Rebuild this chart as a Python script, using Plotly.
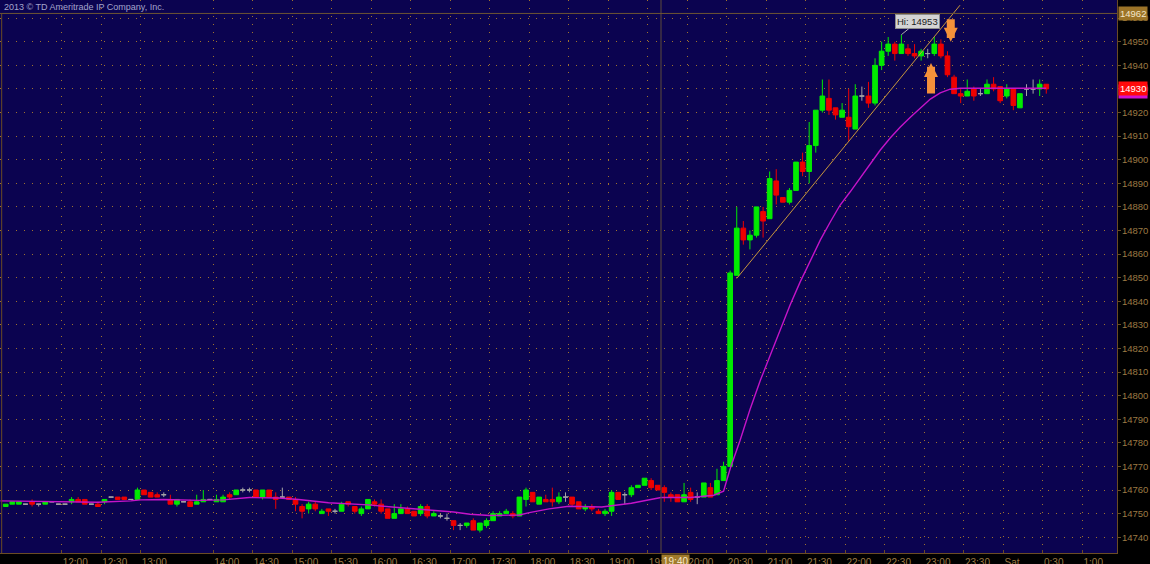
import plotly.graph_objects as go

# ---------------- data ----------------
times = """
11:15 11:20 11:25 11:30 11:35 11:40 11:45 11:50 11:55
12:00 12:05 12:10 12:15 12:20 12:25 12:30 12:35 12:40 12:45 12:50 12:55
13:00 13:05 13:10 13:15 13:20 13:25 13:35 13:40 13:45 13:50 13:55
14:00 14:05 14:10 14:15 14:20 14:25 14:30 14:35 14:40 14:45 14:50 14:55
15:00 15:05 15:10 15:15 15:20 15:25 15:30 15:35 15:40 15:45 15:50 15:55
16:00 16:05 16:10 16:15 16:20 16:25 16:30 16:35 16:40 16:45 16:50 16:55
17:00 17:05 17:10 17:15 17:20 17:25 17:30 17:35 17:40 17:45 17:50 17:55
18:00 18:05 18:10 18:15 18:20 18:25 18:30 18:35 18:40 18:45 18:50 18:55
19:00 19:05 19:10 19:15 19:20 19:25 19:30 19:35 19:40 19:45 19:50 19:55
20:00 20:05 20:10 20:15 20:20 20:25 20:30 20:35 20:40 20:45 20:50 20:55
21:00 21:05 21:10 21:15 21:20 21:25 21:30 21:35 21:40 21:45 21:50 21:55
22:00 22:05 22:10 22:15 22:20 22:25 22:30 22:35 22:40 22:45 22:50 22:55
23:00 23:05 23:10 23:15 23:20 23:25 23:30 23:35 23:40 23:45 23:50 23:55
0:00 0:05 0:10 0:15 0:20 0:25 0:30 0:35 0:40 0:45 0:50 0:55
1:00 1:05 1:10 1:15 1:20 1:25
""".split()

open_ = [14753, 14754, 14754, 14754, 14755, 14754, 14754, 14755, 14754, 14754,
         14755, 14756, 14756, 14754, 14754, 14755, 14757, 14757, 14757, 14756,
         14756, 14760, 14759, 14758, 14758, 14756, 14754, 14755, 14755, 14754,
         14755, 14756, 14755, 14755, 14758, 14758, 14760, 14760, 14760, 14757,
         14760, 14757, 14757, 14757, 14756, 14753, 14752, 14754, 14750, 14752,
         14751, 14751, 14755, 14753, 14750, 14752, 14755, 14754, 14752, 14748,
         14750, 14752, 14751, 14750, 14753, 14749, 14749, 14748, 14747, 14745,
         14745, 14747, 14743, 14745, 14747, 14749, 14750, 14750, 14749, 14756,
         14759, 14754, 14756, 14756, 14755, 14757, 14757, 14755, 14752, 14753,
         14751, 14750, 14751, 14759, 14758, 14758, 14761, 14762, 14764, 14762,
         14761, 14758, 14758, 14755, 14759, 14757, 14757, 14761, 14758, 14764,
         14770, 14851, 14871, 14866, 14868, 14878, 14875, 14891, 14884, 14882,
         14887, 14899, 14895, 14906, 14921, 14926, 14922, 14918, 14918, 14913,
         14927, 14927, 14924, 14940, 14946, 14949, 14945, 14947, 14945, 14944,
         14945, 14945, 14949, 14944, 14935, 14928, 14927, 14930, 14928, 14928,
         14932, 14931, 14927, 14930, 14922, 14930, 14930, 14930, 14932]
high = [14754, 14755, 14755, 14754, 14756, 14754, 14755, 14755, 14754, 14754,
        14757, 14757, 14756, 14754, 14755, 14756, 14757, 14757, 14757, 14756,
        14761, 14760, 14759, 14759, 14759, 14758, 14756, 14755, 14756, 14758,
        14760, 14756, 14758, 14758, 14759, 14760, 14761, 14761, 14760, 14760,
        14760, 14759, 14761, 14757, 14757, 14754, 14755, 14755, 14752, 14752,
        14752, 14755, 14755, 14753, 14753, 14756, 14756, 14756, 14752, 14754,
        14754, 14753, 14751, 14754, 14754, 14751, 14750, 14750, 14747, 14746,
        14746, 14748, 14746, 14748, 14751, 14751, 14752, 14751, 14757, 14761,
        14759, 14757, 14758, 14761, 14759, 14759, 14757, 14755, 14754, 14754,
        14752, 14752, 14760, 14759, 14759, 14762, 14762, 14765, 14765, 14762,
        14762, 14759, 14758, 14763, 14761, 14759, 14763, 14763, 14769, 14772,
        14853, 14880, 14874, 14870, 14880, 14880, 14895, 14896, 14884, 14888,
        14899, 14903, 14916, 14921, 14934, 14934, 14922, 14924, 14930, 14932,
        14931, 14933, 14943, 14950, 14952, 14950, 14953, 14949, 14949, 14947,
        14947, 14952, 14951, 14946, 14936, 14930, 14934, 14931, 14930, 14934,
        14935, 14931, 14932, 14930, 14928, 14932, 14934, 14934, 14932]
low = [14753, 14754, 14754, 14754, 14753, 14753, 14754, 14755, 14754, 14754,
       14754, 14755, 14754, 14754, 14753, 14754, 14757, 14756, 14756, 14756,
       14756, 14758, 14757, 14757, 14757, 14754, 14753, 14755, 14753, 14754,
       14755, 14756, 14755, 14755, 14756, 14758, 14759, 14759, 14757, 14756,
       14757, 14752, 14757, 14756, 14751, 14748, 14750, 14751, 14750, 14749,
       14750, 14751, 14753, 14750, 14749, 14752, 14753, 14750, 14748, 14748,
       14750, 14750, 14749, 14749, 14748, 14749, 14748, 14747, 14743, 14743,
       14744, 14743, 14742, 14744, 14747, 14749, 14750, 14748, 14749, 14753,
       14755, 14754, 14755, 14753, 14754, 14755, 14753, 14752, 14751, 14751,
       14750, 14749, 14749, 14756, 14754, 14757, 14761, 14762, 14760, 14760,
       14755, 14755, 14755, 14755, 14755, 14754, 14757, 14757, 14758, 14764,
       14770, 14851, 14864, 14862, 14867, 14867, 14875, 14881, 14882, 14881,
       14887, 14893, 14890, 14903, 14920, 14919, 14917, 14918, 14908, 14913,
       14925, 14922, 14923, 14938, 14944, 14942, 14945, 14944, 14943, 14942,
       14943, 14944, 14943, 14935, 14928, 14924, 14927, 14925, 14927, 14928,
       14929, 14924, 14926, 14921, 14922, 14927, 14928, 14927, 14928]
close = [14754, 14755, 14755, 14754, 14754, 14754, 14755, 14755, 14754, 14754,
         14756, 14755, 14754, 14754, 14753, 14756, 14757, 14756, 14756, 14756,
         14760, 14758, 14757, 14757, 14758, 14754, 14756, 14755, 14753, 14755,
         14756, 14756, 14756, 14757, 14757, 14760, 14760, 14760, 14757, 14760,
         14757, 14756, 14757, 14756, 14754, 14751, 14754, 14752, 14751, 14751,
         14751, 14754, 14754, 14751, 14752, 14756, 14754, 14751, 14748, 14750,
         14752, 14750, 14749, 14753, 14749, 14750, 14749, 14748, 14745, 14745,
         14746, 14743, 14746, 14747, 14750, 14750, 14751, 14749, 14757, 14760,
         14755, 14757, 14755, 14755, 14757, 14757, 14754, 14752, 14753, 14752,
         14750, 14751, 14759, 14756, 14758, 14761, 14762, 14765, 14761, 14760,
         14759, 14757, 14755, 14758, 14756, 14757, 14763, 14757, 14764, 14770,
         14852, 14871, 14866, 14868, 14880, 14874, 14892, 14885, 14882, 14887,
         14899, 14895, 14906, 14921, 14927, 14921, 14919, 14921, 14914, 14927,
         14927, 14924, 14940, 14946, 14949, 14945, 14949, 14945, 14944, 14946,
         14945, 14949, 14944, 14936, 14928, 14927, 14929, 14927, 14928, 14932,
         14930, 14925, 14930, 14923, 14928, 14930, 14930, 14932, 14930]

# moving average at bar positions
ma_idx = [-0.8, 8, 14, 19, 20.5, 24, 29.5, 33, 37, 41.5, 44.5, 49, 55, 60, 64.5,
          68, 70.5, 73.5, 78, 79.5, 82.5, 85.5, 90.5, 95, 99.5, 104, 107.5, 109,
          110, 111.5, 113, 114.6, 116.1, 117.6, 119.1, 120.6, 122.2, 123.7,
          125.2, 126.7, 128.2, 129.7, 131.3, 132.8, 134.3, 135.8, 137.4, 138.9,
          140.4, 141.9, 143.4, 145, 158]
ma_val = [14755.4, 14755.0, 14754.8, 14755.4, 14755.8, 14756.0, 14755.6, 14755.8,
          14756.8, 14756.6, 14756.0, 14754.6, 14753.7, 14752.5, 14751.5, 14750.7,
          14749.7, 14749.2, 14749.4, 14750.4, 14752.0, 14753.1, 14752.8, 14754.4,
          14756.8, 14756.8, 14757.8, 14759.5, 14769.0, 14781.0, 14794.0, 14806.6,
          14817.2, 14827.8, 14838.4, 14848.0, 14857.5, 14866.0, 14873.6, 14880.8,
          14886.3, 14892.2, 14898.6, 14904.1, 14909.2, 14913.8, 14918.1, 14921.9,
          14925.7, 14928.3, 14929.9, 14930.3, 14930.3]

tick_times = ["12:00", "12:30", "13:00", "14:00", "14:30", "15:00", "15:30", "16:00",
              "16:30", "17:00", "17:30", "18:00", "18:30", "19:00", "19:30", "20:00",
              "20:30", "21:00", "21:30", "22:00", "22:30", "23:00", "23:30", "0:00",
              "0:30", "1:00"]
tick_text = ["12:00", "12:30", "13:00", "14:00", "14:30", "15:00", "15:30", "16:00",
             "16:30", "17:00", "17:30", "18:00", "18:30", "19:00", "19:30", "20:00",
             "20:30", "21:00", "21:30", "22:00", "22:30", "23:00", "23:30", "Sat",
             "0:30", "1:00"]
price_ticks = [14740, 14750, 14760, 14770, 14780, 14790, 14800, 14810, 14820, 14830,
               14840, 14850, 14860, 14870, 14880, 14890, 14900, 14910, 14920, 14930,
               14940, 14950, 14960]

trend_idx = [111, 144.9]
trend_val = [14849.7, 14965.5]
hi_idx, hi_val = 136, 14953
buy_idx, buy_val = 140.5, 14941
sell_idx, sell_val = 143.5, 14950
cross_time, cross_price = "19:40", 14962
last_price = 14930
copyright_text = "2013 © TD Ameritrade IP Company, Inc."

# ---------------- styles ----------------
GREEN, RED, GRAY = "#00ec00", "#ee0000", "#a4a4a4"
NAVY = "#0b0350"
GRID = "#a0722e"
AXIS = "#6b4c24"
LABEL = "#9c7a44"

xs = [times.index(t) for t in times[:len(open_)]]


def subset(cond):
    idx = [i for i in range(len(open_)) if cond(open_[i], close[i])]
    return ([xs[i] for i in idx], [open_[i] for i in idx], [high[i] for i in idx],
            [low[i] for i in idx], [close[i] for i in idx])


fig = go.Figure()
for cond, col in [(lambda o, c: c > o, GREEN), (lambda o, c: c < o, RED),
                  (lambda o, c: c == o, GRAY)]:
    x, o, h, l, c = subset(cond)
    fig.add_trace(go.Candlestick(
        x=x, open=o, high=h, low=l, close=c,
        increasing=dict(line=dict(color=col, width=1), fillcolor=col),
        decreasing=dict(line=dict(color=col, width=1), fillcolor=col),
        showlegend=False, hoverinfo="skip"))

fig.add_trace(go.Scatter(x=ma_idx, y=ma_val, mode="lines",
                         line=dict(color="#c414c8", width=1.4),
                         showlegend=False, hoverinfo="skip"))
fig.add_trace(go.Scatter(x=trend_idx, y=trend_val, mode="lines",
                         line=dict(color="#c8963c", width=1),
                         showlegend=False, hoverinfo="skip"))

tickvals = [times.index(t) - 0.5 for t in tick_times]
cross_x = times.index(cross_time) - 0.5

fig.update_layout(
    width=1150, height=564,
    margin=dict(l=0, r=33, t=0, b=11, pad=0),
    paper_bgcolor="#000000", plot_bgcolor=NAVY,
    boxgap=0.29, boxgroupgap=0,
    showlegend=False,
    font=dict(family="Liberation Sans, Arial, sans-serif"),
    xaxis=dict(range=[-0.87, 168.74], tickvals=tickvals, ticktext=tick_text,
               showgrid=True, gridcolor=GRID, griddash="1px,7px", gridwidth=1,
               ticks="inside", ticklen=3, tickcolor=AXIS,
               showline=True, linecolor=AXIS, linewidth=1,
               tickfont=dict(size=10, color=LABEL),
               ticklabelposition="outside right",
               zeroline=False, rangeslider=dict(visible=False), automargin=False),
    yaxis=dict(side="right", range=[14733.3, 14967.7], tickvals=price_ticks,
               tickformat="d",
               showgrid=True, gridcolor=GRID, griddash="1px,7px", gridwidth=1,
               ticks="outside", ticklen=3, tickcolor=AXIS,
               showline=True, linecolor=AXIS, linewidth=1,
               tickfont=dict(size=9.5, color=LABEL), ticklabelstandoff=-1,
               zeroline=False, automargin=False),
)

# crosshair and frame
fig.add_shape(type="line", xref="x", yref="paper", x0=cross_x, x1=cross_x, y0=0, y1=1,
              line=dict(color="#5e4c3a", width=1))
fig.add_shape(type="line", xref="paper", yref="y", x0=0, x1=1, y0=cross_price, y1=cross_price,
              line=dict(color="#6e5432", width=1))
fig.add_shape(type="line", xref="paper", yref="y", x0=0.0015, x1=0.0015, y0=14733.3,
              y1=cross_price, line=dict(color=AXIS, width=1))

# annotations
fig.add_annotation(xref="paper", yref="paper", x=0, y=1, xanchor="left", yanchor="top",
                   xshift=2, yshift=0, text=copyright_text, showarrow=False,
                   font=dict(size=9, color="#a4a4cc"))
fig.add_annotation(x=hi_idx, y=hi_val, text="Hi: 14953", showarrow=True, arrowhead=0,
                   arrowcolor="#b0b0b0", arrowwidth=1, ax=16, ay=-13,
                   bgcolor="#d4d4d4", bordercolor="#8c8c8c", borderwidth=1, borderpad=1,
                   font=dict(size=9.5, color="#202020"))
fig.add_annotation(x=buy_idx, y=buy_val, text="", showarrow=True, arrowhead=2,
                   arrowsize=0.35, arrowwidth=8, arrowcolor="#f5913a", ax=0, ay=32)
fig.add_annotation(x=sell_idx, y=sell_val, text="", showarrow=True, arrowhead=2,
                   arrowsize=0.35, arrowwidth=8, arrowcolor="#f5913a", ax=0, ay=-24)
fig.add_annotation(xref="paper", yref="y", x=1, y=ma_val[-1], xanchor="left", xshift=1,
                   yshift=-3, text="14930", showarrow=False, bgcolor="#d010d0",
                   font=dict(size=9.5, color="#d010d0"), borderpad=1)
fig.add_annotation(xref="paper", yref="y", x=1, y=last_price, xanchor="left", xshift=1,
                   text=str(last_price), showarrow=False, bgcolor="#ff0a0a",
                   font=dict(size=9.5, color="#ffffff"), borderpad=1)
fig.add_annotation(xref="paper", yref="y", x=1, y=cross_price, xanchor="left", xshift=1,
                   text=str(cross_price), showarrow=False, bgcolor="#9c7428",
                   font=dict(size=9.5, color="#f4e6c8"), borderpad=1)
fig.add_annotation(xref="x", yref="paper", x=cross_x, y=0, xanchor="left", yanchor="top",
                   yshift=-1, text=cross_time, showarrow=False, bgcolor="#a07a2c",
                   font=dict(size=10, color="#f4e6c8"), borderpad=1)

fig.write_html("out.html", config={"displayModeBar": False},
               post_script="document.body.style.margin='0px';"
                           "document.body.style.background='#000000';")
